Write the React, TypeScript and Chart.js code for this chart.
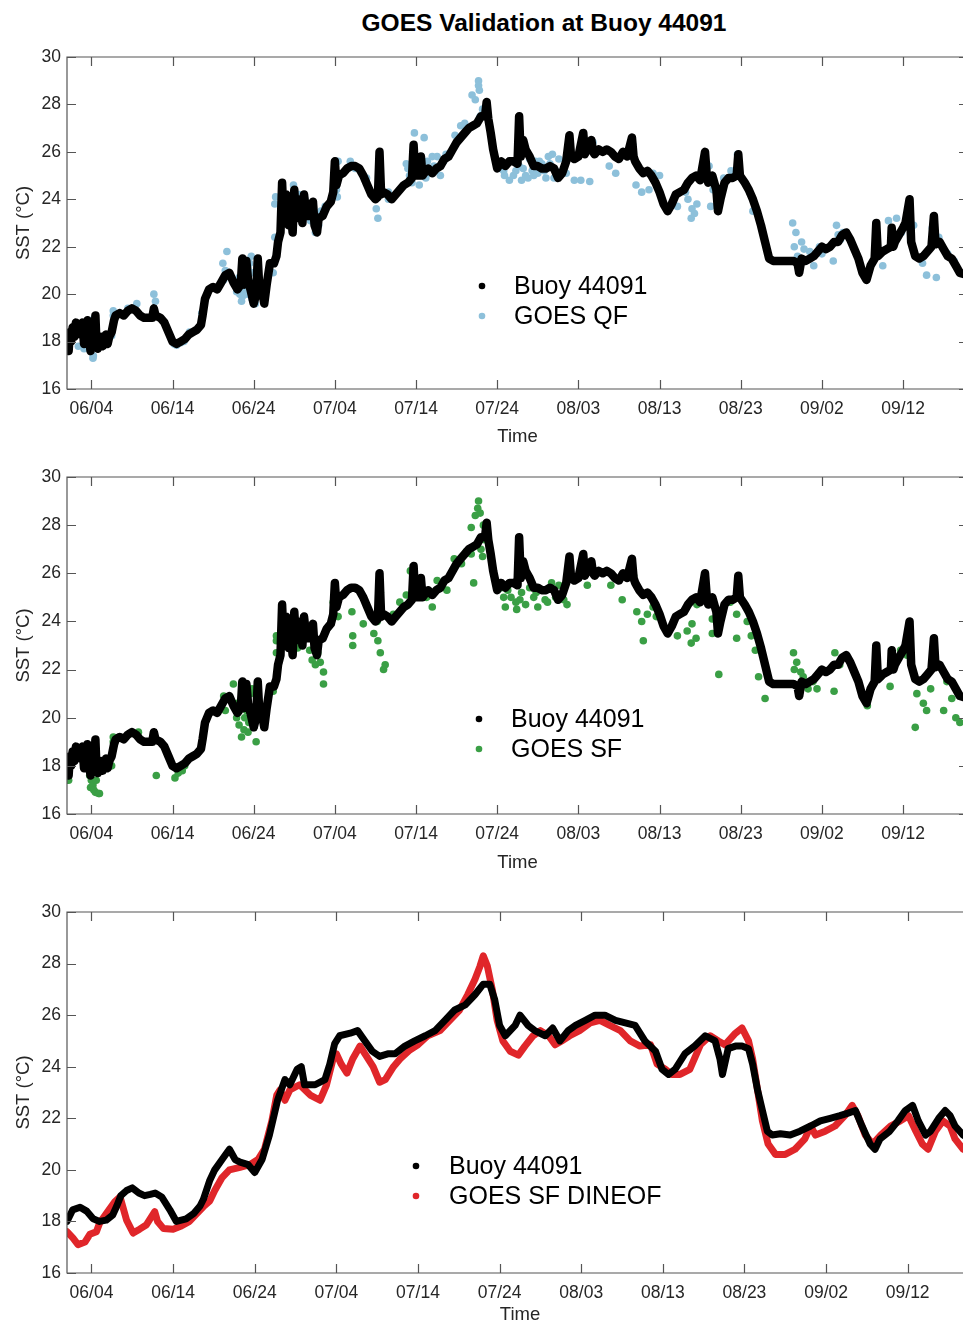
import { useEffect, useRef } from 'react';
import { Chart, registerables } from 'chart.js';

Chart.register(...registerables);

const FONT = '"Liberation Sans", Arial, Helvetica, sans-serif';

// Days since 06/01 (00:00) for tick positions, and their labels
const xTickDays = [3, 13, 23, 33, 43, 53, 63, 73, 83, 93, 103];
const xTickLabels = ['06/04', '06/14', '06/24', '07/04', '07/14', '07/24', '08/03', '08/13', '08/23', '09/02', '09/12'];

const figureTitle = 'GOES Validation at Buoy 44091';
const yTitle = 'SST (°C)';
const xTitle = 'Time';

// Buoy 44091 in-situ SST: [day, °C]
const buoy: [number, number][] = [
  [0, 18.2], [0.2, 17.6], [0.35, 18.4], [0.5, 18.0], [0.7, 18.6], [0.9, 18.2], [1.1, 18.8], [1.3, 18.4],
  [1.5, 18.7], [1.7, 18.3], [1.9, 18.8], [2.1, 17.9], [2.3, 18.6], [2.5, 18.9], [2.7, 18.2], [2.9, 17.6],
  [3.1, 18.2], [3.3, 17.8], [3.5, 19.1], [3.6, 18.2], [3.8, 17.7], [4.0, 17.9], [4.2, 18.2], [4.4, 17.8],
  [4.6, 18.1], [4.8, 18.3], [5.0, 17.9], [5.2, 18.2], [5.5, 18.4], [5.8, 18.9], [6.0, 19.1], [6.5, 19.2],
  [7.0, 19.1], [7.5, 19.3], [8.0, 19.4], [8.5, 19.3], [9.0, 19.1], [9.5, 19.0], [10.0, 19.0], [10.5, 19.0],
  [10.7, 19.4], [10.9, 19.1], [11.5, 19.0], [12.0, 18.8], [12.5, 18.4], [13.0, 18.0], [13.5, 17.9], [14.0, 18.0],
  [14.5, 18.1], [15.0, 18.3], [15.5, 18.4], [16.0, 18.5], [16.5, 18.7], [16.7, 19.1], [17.0, 19.8], [17.5, 20.2],
  [18.0, 20.3], [18.5, 20.2], [19.0, 20.5], [19.5, 20.8], [20.0, 20.9], [20.5, 20.5], [21.0, 20.2], [21.4, 20.4],
  [21.6, 21.5], [21.8, 20.4], [22.0, 20.8], [22.1, 21.4], [22.3, 20.6], [22.6, 20.2], [23.0, 19.6], [23.3, 20.0],
  [23.5, 21.5], [23.7, 20.2], [24.0, 20.2], [24.3, 19.6], [24.6, 20.4], [25.0, 21.3], [25.5, 21.3], [25.8, 21.6],
  [26.0, 22.2], [26.3, 22.6], [26.5, 24.7], [26.7, 23.0], [27.0, 24.2], [27.3, 22.9], [27.5, 23.7], [27.8, 22.6],
  [28.0, 24.4], [28.2, 23.2], [28.5, 23.5], [28.8, 24.0], [29.0, 23.0], [29.2, 24.2], [29.5, 23.3], [30.0, 23.3],
  [30.3, 23.9], [30.5, 22.9], [30.8, 22.6], [31.0, 23.2], [31.5, 23.3], [32.0, 23.7], [32.5, 23.9], [32.8, 24.3],
  [33.0, 25.6], [33.2, 24.6], [33.5, 25.0], [34.0, 25.1], [34.5, 25.3], [35.0, 25.4], [35.5, 25.4], [36.0, 25.3],
  [36.5, 25.0], [37.0, 24.6], [37.5, 24.2], [38.0, 24.0], [38.3, 24.1], [38.5, 26.0], [38.7, 24.2], [39.0, 24.3],
  [39.5, 24.2], [40.0, 24.0], [40.5, 24.2], [41.0, 24.4], [41.5, 24.6], [42.0, 24.7], [42.5, 24.9], [42.7, 26.3],
  [42.9, 25.0], [43.5, 25.0], [43.6, 25.8], [43.8, 25.0], [44.0, 25.1], [44.5, 25.3], [45.0, 25.1], [45.5, 25.3],
  [46.0, 25.4], [46.5, 25.7], [47.0, 25.8], [47.5, 26.1], [48.0, 26.4], [48.5, 26.6], [49.0, 26.8], [49.5, 27.0],
  [50.0, 27.1], [50.5, 27.2], [51.0, 27.5], [51.5, 27.5], [51.7, 28.1], [51.9, 27.4], [52.2, 26.8], [52.5, 26.1],
  [53.0, 25.3], [53.5, 25.6], [54.0, 25.4], [54.5, 25.6], [55.0, 25.6], [55.5, 25.5], [55.7, 27.5], [55.9, 25.8],
  [56.2, 26.5], [56.5, 26.1], [57.0, 25.8], [57.5, 25.4], [58.0, 25.4], [58.5, 25.3], [59.0, 25.3], [59.5, 25.4],
  [60.0, 25.3], [60.5, 24.9], [61.0, 25.1], [61.5, 25.6], [61.9, 26.7], [62.1, 25.8], [62.5, 25.7], [63.0, 25.8],
  [63.6, 26.8], [63.8, 25.9], [64.0, 26.1], [64.6, 26.5], [64.8, 26.0], [65.0, 25.9], [65.5, 26.1], [66.0, 26.0],
  [66.5, 26.1], [67.0, 26.0], [67.5, 25.8], [68.0, 25.7], [68.5, 26.0], [69.0, 25.8], [69.6, 26.6], [69.8, 25.8],
  [70.0, 25.6], [70.5, 25.3], [71.0, 25.1], [71.5, 25.2], [72.0, 25.0], [72.5, 24.7], [73.0, 24.3], [73.5, 23.8],
  [74.0, 23.5], [74.5, 23.8], [75.0, 24.2], [75.5, 24.3], [76.0, 24.4], [76.5, 24.7], [77.0, 24.9], [77.5, 25.0],
  [78.0, 24.8], [78.6, 26.0], [78.8, 25.1], [79.0, 24.7], [79.5, 25.0], [80.0, 24.4], [80.2, 23.5], [80.5, 24.0],
  [81.0, 24.7], [81.5, 24.9], [82.0, 24.9], [82.5, 25.0], [82.7, 25.9], [82.9, 25.0], [83.5, 24.7], [84.0, 24.4],
  [84.5, 24.0], [85.0, 23.5], [85.5, 22.9], [86.0, 22.2], [86.5, 21.5], [87.0, 21.4], [88.0, 21.4], [89.0, 21.4],
  [89.5, 21.4], [90.0, 21.3], [90.2, 20.9], [90.5, 21.5], [91.0, 21.4], [91.5, 21.5], [92.0, 21.6], [92.5, 21.8],
  [93.0, 22.0], [93.5, 21.9], [94.0, 22.0], [94.5, 22.2], [95.0, 22.2], [95.5, 22.5], [96.0, 22.6], [96.5, 22.3],
  [97.0, 21.9], [97.5, 21.5], [98.0, 20.9], [98.5, 20.6], [99.0, 21.2], [99.5, 21.5], [99.7, 23.0], [99.9, 21.6],
  [100.5, 21.8], [101.0, 21.9], [101.5, 22.0], [101.6, 22.8], [101.8, 22.0], [102.0, 22.2], [102.5, 22.5], [103.0, 22.8],
  [103.3, 23.0], [103.8, 24.0], [104.0, 22.2], [104.5, 21.6], [105.0, 21.5], [105.5, 21.6], [106.0, 21.8], [106.5, 22.0],
  [106.8, 23.3], [107.0, 22.1], [107.5, 22.2], [108.0, 21.9], [108.5, 21.6], [109.0, 21.5], [109.5, 21.2], [110.0, 20.9],
  [111, 20.8],
];

// GOES QF retrievals: [day, °C]
const goesQF: [number, number][] = [
  [0.0, 17.8], [0.1, 17.7], [0.2, 17.9], [1.4, 17.8], [1.6, 18.75], [2.1, 17.7], [2.8, 18.5], [2.8, 18.0],
  [3.0, 18.9], [3.2, 17.3], [3.25, 17.4], [5.5, 18.25], [5.7, 19.3], [5.7, 19.1], [7.5, 19.4], [8.6, 19.6],
  [10.7, 20.0], [10.9, 19.7], [13.2, 17.9], [13.5, 17.85], [14.0, 17.95], [14.4, 18.0], [15.1, 18.4], [16.6, 19.2],
  [19.2, 21.3], [19.3, 20.6], [19.5, 21.0], [19.7, 21.8], [21.0, 20.4], [21.3, 20.0], [21.5, 19.7], [21.8, 20.1],
  [22.0, 20.6], [22.1, 20.9], [22.3, 21.1], [22.5, 21.3], [22.6, 20.2], [22.7, 21.6], [22.8, 19.8], [23.0, 20.5],
  [23.2, 19.6], [21.2, 20.7], [21.7, 20.3], [22.2, 20.0], [22.9, 20.9], [20.9, 20.1], [21.6, 19.9], [22.4, 20.4],
  [25.4, 20.9], [25.6, 22.4], [25.6, 23.8], [25.7, 24.1], [27.9, 24.6], [28.2, 23.9], [28.4, 23.8],
  [28.6, 24.2], [29.0, 23.7], [29.3, 24.0], [29.6, 23.5], [30.0, 23.1], [30.3, 23.8], [30.5, 23.4], [30.6, 22.6],
  [30.7, 22.7], [31.0, 22.9], [31.3, 23.5], [31.8, 23.7], [33.2, 24.4], [33.3, 24.1], [33.4, 25.6], [34.9, 25.6],
  [35.5, 25.3], [36.9, 24.9], [38.1, 23.6], [38.3, 23.2], [38.5, 25.8], [38.5, 25.4], [38.5, 25.1], [39.6, 24.3],
  [39.6, 24.0], [41.8, 25.5], [42.2, 25.0], [42.5, 24.7], [42.8, 26.8], [43.1, 25.3], [43.4, 24.6], [44.0, 26.6],
  [44.4, 25.6], [44.8, 25.1], [45.2, 25.4], [45.6, 25.8], [46.0, 25.0], [46.4, 25.6], [47.0, 25.9], [47.8, 26.7],
  [42.0, 25.3], [43.7, 25.6], [44.2, 24.9], [45.0, 25.8], [45.9, 25.4], [46.7, 25.9],
  [48.5, 27.1], [49.0, 27.2], [49.3, 27.0], [49.9, 28.4], [50.3, 28.2], [50.7, 29.0], [50.7, 28.8], [50.8, 28.6],
  [50.9, 27.5], [51.2, 27.8], [53.3, 25.3], [53.8, 25.2], [53.9, 25.0], [54.5, 24.8], [55.0, 25.0], [55.7, 25.4],
  [56.0, 24.8], [56.5, 25.0], [57.0, 25.7], [57.3, 25.2], [57.7, 25.6], [58.0, 25.1], [58.5, 25.5], [59.0, 24.9],
  [59.5, 25.5], [59.8, 25.9], [60.2, 25.2], [60.6, 25.7], [61.5, 25.1], [62.5, 24.8], [63.3, 24.8], [64.4, 24.75],
  [55.3, 25.2], [56.2, 25.3], [56.8, 24.9], [57.5, 25.0], [58.2, 25.6], [58.8, 25.2], [59.3, 25.8], [60.0, 24.9],
  [64.8, 26.4], [66.8, 25.4], [67.6, 25.1], [69.7, 26.3], [70.1, 24.6], [70.8, 24.3], [71.7, 24.4], [72.2, 25.1],
  [73.0, 25.0], [75.2, 23.7], [76.5, 24.0], [76.9, 23.2], [77.0, 23.6], [77.3, 23.4], [77.9, 25.0], [78.3, 25.4],
  [79.1, 25.4], [79.3, 23.7], [79.6, 24.4], [82.6, 25.9], [82.8, 25.3], [84.1, 24.3], [84.5, 23.5], [89.4, 23.0],
  [89.6, 22.0], [89.8, 22.6], [90.0, 21.6], [90.5, 22.2], [91.0, 21.4], [91.5, 21.8], [92.0, 21.2], [92.7, 22.0],
  [93.5, 21.9], [94.4, 21.4], [94.8, 22.9], [95.3, 22.3], [95.6, 22.6], [99.7, 23.0], [99.8, 21.6], [100.5, 21.2],
  [101.2, 23.1], [102.0, 22.4], [102.2, 23.2], [102.8, 22.6], [103.8, 23.7], [105.4, 21.3], [105.9, 20.8], [106.6, 22.8],
  [107.1, 20.7], [107.4, 22.4], [108.5, 21.7], [109.3, 21.4],
  [76.2, 24.3], [77.6, 23.8], [80.9, 24.9], [81.8, 25.2], [90.8, 21.9], [93.0, 21.7], [95.0, 22.5], [104.3, 22.9],
];

// GOES SF retrievals: [day, °C]
const goesSF: [number, number][] = [
  [0.0, 17.6], [0.2, 17.4], [2.4, 18.2], [2.6, 17.9], [2.8, 17.6], [2.9, 17.1], [3.0, 17.4], [3.2, 17.2],
  [3.2, 18.1], [3.3, 17.0], [3.5, 16.9], [3.6, 17.4], [3.6, 18.3], [3.9, 16.85], [4.0, 16.85], [5.5, 18.0],
  [5.7, 19.2], [5.7, 19.0], [8.8, 19.4], [11.0, 17.6], [13.3, 17.5], [13.7, 17.7], [14.2, 17.8], [14.5, 18.0],
  [19.3, 20.9], [19.5, 20.3], [20.5, 21.4], [20.9, 20.0], [21.2, 19.7], [21.5, 19.2], [21.8, 19.5], [22.1, 20.3],
  [22.4, 19.8], [22.6, 21.0], [22.8, 21.2], [23.0, 19.6], [23.2, 20.4], [23.3, 19.0], [25.4, 21.1], [25.8, 23.4],
  [25.8, 23.2], [25.8, 22.7], [27.9, 23.3], [28.4, 22.9], [28.9, 23.3], [29.2, 23.6], [29.9, 22.8], [30.2, 22.4],
  [30.6, 22.2], [30.9, 22.7], [31.2, 22.3], [31.6, 21.9], [31.6, 21.4], [32.8, 24.8], [33.4, 24.2], [35.1, 24.4],
  [35.2, 23.4], [35.2, 23.0], [36.5, 23.9], [37.8, 23.5], [38.2, 24.0], [38.3, 23.2], [38.6, 22.7], [38.6, 25.2],
  [39.0, 22.0], [39.2, 22.2], [40.2, 24.3], [41.0, 24.8], [41.8, 25.1], [42.3, 26.1], [42.7, 26.0], [43.5, 25.4],
  [44.3, 25.0], [45.0, 24.6], [45.6, 25.7], [46.8, 25.3], [47.7, 26.6], [48.6, 26.4], [49.2, 26.9], [49.8, 26.8],
  [49.8, 27.9], [50.1, 25.6], [50.3, 28.4], [50.6, 28.7], [50.7, 29.0], [50.9, 28.5], [51.0, 27.0], [51.2, 26.7],
  [51.3, 28.0], [51.4, 27.4], [53.5, 25.4], [53.8, 25.0], [54.0, 24.6], [54.7, 25.0], [55.3, 24.8], [55.4, 24.5],
  [56.0, 25.2], [56.5, 24.7], [57.0, 25.4], [57.5, 25.0], [58.0, 24.6], [58.6, 25.3], [59.2, 24.8], [59.7, 25.6],
  [60.2, 25.0], [60.6, 25.5], [61.2, 24.9], [61.6, 24.7], [64.1, 25.5], [65.1, 26.0], [67.0, 25.5], [68.4, 24.9],
  [69.8, 25.9], [70.2, 24.4], [70.8, 24.0], [71.0, 23.2], [71.5, 24.3], [72.2, 24.6], [72.6, 24.2], [75.2, 23.4],
  [76.4, 23.6], [76.9, 23.1], [77.0, 23.9], [77.5, 23.3], [77.6, 24.7], [78.4, 25.3], [79.0, 24.8], [79.5, 24.1],
  [79.5, 23.5], [80.3, 21.8], [81.7, 24.8], [82.5, 24.3], [82.5, 23.3], [82.8, 25.6], [83.8, 24.0], [84.3, 23.4],
  [84.8, 22.8], [85.2, 21.7], [86.0, 20.8], [89.5, 22.7], [89.6, 22.0], [89.9, 22.3], [90.1, 21.3], [90.7, 21.7],
  [91.3, 21.2], [91.9, 21.5], [92.4, 21.2], [94.5, 21.1], [94.6, 22.7], [95.2, 22.2], [95.7, 22.5], [98.6, 20.5],
  [100.2, 21.7], [101.4, 21.3], [102.7, 22.8], [103.5, 22.6], [104.5, 19.6], [104.7, 21.0], [105.5, 20.6], [105.9, 20.3],
  [106.4, 21.2], [106.8, 22.5], [108.0, 20.3], [108.4, 21.5], [109.0, 20.8], [109.5, 20.0], [110.0, 19.8],
  [21.0, 20.6], [21.9, 20.0], [22.3, 19.4], [54.3, 25.3], [55.8, 24.9], [57.8, 25.2], [58.9, 24.9], [90.4, 21.9],
];

// Buoy series as shown in the DINEOF panel: [day, °C]
const buoyDaily: [number, number][] = [
  [0, 18.0], [0.7, 18.45], [1.6, 18.55], [2.4, 18.4], [3.2, 18.1], [4.0, 18.0], [4.8, 18.05], [5.6, 18.25],
  [6.1, 18.6], [6.6, 19.0], [7.3, 19.2], [8.0, 19.3], [8.8, 19.1], [9.5, 19.0], [10.2, 19.05], [10.8, 19.1],
  [11.6, 18.95], [12.6, 18.45], [13.4, 18.0], [14.6, 18.1], [15.5, 18.3], [16.3, 18.6], [16.7, 18.85], [17.5, 19.6],
  [18.1, 20.0], [19.0, 20.4], [19.9, 20.8], [20.6, 20.4], [21.2, 20.3], [22.2, 20.2], [23.0, 19.9], [23.9, 20.4],
  [24.8, 21.35], [25.8, 22.7], [26.7, 23.5], [27.3, 23.3], [28.2, 23.9], [28.7, 24.0], [29.1, 23.3], [30.4, 23.3],
  [31.6, 23.5], [32.2, 24.1], [32.8, 24.9], [33.4, 25.2], [34.7, 25.3], [35.6, 25.4], [36.5, 25.0], [37.4, 24.6],
  [38.3, 24.4], [39.3, 24.5], [40.2, 24.5], [41.4, 24.8], [42.6, 25.0], [43.9, 25.2], [45.1, 25.4], [46.3, 25.8],
  [47.5, 26.2], [48.8, 26.4], [50.0, 26.8], [51.0, 27.2], [51.8, 27.2], [52.4, 26.6], [53.0, 25.6], [53.7, 25.2],
  [54.9, 25.6], [55.5, 26.0], [56.5, 25.6], [57.3, 25.4], [58.6, 25.2], [59.5, 25.5], [60.4, 25.0], [61.4, 25.4],
  [62.3, 25.6], [63.5, 25.8], [64.7, 26.0], [65.9, 26.0], [67.2, 25.8], [68.4, 25.7], [69.6, 25.6], [70.8, 25.0],
  [72.1, 24.6], [72.9, 23.9], [73.7, 23.7], [74.5, 23.9], [75.7, 24.5], [76.9, 24.8], [78.2, 25.2], [79.4, 25.0],
  [80.0, 24.3], [80.3, 23.7], [81.0, 24.7], [81.9, 24.8], [82.7, 24.8], [83.5, 24.7], [84.0, 24.1], [84.6, 23.1],
  [85.2, 22.3], [85.8, 21.5], [86.4, 21.35], [87.4, 21.4], [88.6, 21.35], [89.8, 21.5], [91.1, 21.7], [92.3, 21.9],
  [93.5, 22.0], [94.7, 22.1], [95.7, 22.2], [96.6, 22.3], [97.4, 21.7], [98.4, 21.0], [99.0, 20.8], [99.6, 21.2],
  [100.8, 21.5], [101.8, 21.9], [102.7, 22.3], [103.6, 22.5], [104.3, 21.9], [105.2, 21.35], [105.8, 21.5], [106.8, 22.0],
  [107.6, 22.3], [108.2, 22.1], [108.8, 21.7], [109.8, 21.35], [111, 21.1],
];

// GOES SF DINEOF reconstruction: [day, °C]
const goesDineof: [number, number][] = [
  [0, 17.6], [0.74, 17.35], [1.35, 17.1], [2.2, 17.2], [2.8, 17.5], [3.6, 17.6], [4.0, 17.94], [4.8, 18.3],
  [5.85, 18.76], [6.5, 18.95], [7.3, 18.05], [8.1, 17.55], [8.9, 17.7], [9.7, 17.86], [10.75, 18.38], [11.1, 18.0],
  [11.8, 17.73], [13.0, 17.7], [14.0, 17.82], [15.0, 18.0], [15.9, 18.3], [16.7, 18.57], [17.5, 18.8], [18.1, 19.2],
  [19.0, 19.7], [19.9, 20.0], [21.2, 20.1], [22.4, 20.2], [23.4, 20.4], [24.2, 20.8], [25.1, 21.9], [25.7, 22.9],
  [26.1, 23.1], [26.7, 22.7], [27.3, 23.1], [28.5, 23.3], [29.8, 22.9], [31.0, 22.7], [31.8, 23.3], [32.6, 24.3],
  [33.0, 24.5], [33.6, 24.1], [34.3, 23.75], [35.0, 24.3], [35.9, 24.8], [36.7, 24.4], [37.5, 24.0], [38.3, 23.4],
  [39.0, 23.5], [40.0, 24.0], [40.8, 24.3], [42.0, 24.65], [43.0, 24.85], [44.2, 25.2], [45.7, 25.4], [46.9, 25.8],
  [48.1, 26.2], [49.1, 26.8], [50.0, 27.4], [50.6, 27.9], [51.0, 28.3], [51.5, 27.9], [52.1, 27.0], [52.7, 25.8],
  [53.4, 25.0], [54.3, 24.6], [55.3, 24.45], [56.1, 24.8], [57.1, 25.2], [58.0, 25.4], [59.0, 25.2], [59.8, 24.85],
  [60.6, 25.0], [61.6, 25.2], [62.8, 25.4], [64.1, 25.7], [65.3, 25.8], [66.5, 25.6], [67.8, 25.4], [69.0, 25.0],
  [70.2, 24.8], [71.5, 24.85], [72.3, 24.1], [73.3, 23.9], [74.1, 23.7], [75.1, 23.7], [76.3, 23.9], [77.6, 24.85],
  [78.8, 25.2], [79.8, 25.0], [80.6, 24.85], [81.9, 25.3], [82.7, 25.5], [83.5, 25.0], [84.0, 24.3], [84.6, 23.1],
  [85.2, 21.9], [85.9, 21.0], [86.8, 20.6], [88.0, 20.6], [89.2, 20.8], [90.4, 21.2], [91.1, 21.7], [91.7, 21.35],
  [92.9, 21.5], [94.1, 21.7], [95.3, 22.1], [96.2, 22.5], [96.9, 22.1], [97.8, 21.35], [98.7, 21.0], [99.7, 21.35],
  [100.9, 21.7], [102.1, 21.9], [103.1, 22.1], [104.0, 21.5], [104.8, 21.0], [105.5, 20.8], [106.4, 21.5], [107.3, 21.9],
  [108.2, 21.7], [108.8, 21.2], [109.8, 20.8], [111, 20.6],
];

const toXY = (arr: [number, number][]) => arr.map(([x, y]) => ({ x, y }));

const AXIS_COLOR = '#555555';
const TEXT_COLOR = '#262626';

const matlabAxes = {
  id: 'matlabAxes',
  afterDatasetsDraw(chart: any, _args: any, opts: any) {
    const { ctx, chartArea } = chart;
    const { left, right, top, bottom } = chartArea;
    const xs = chart.scales.x;
    const ys = chart.scales.y;
    const tl = 9;
    ctx.save();
    ctx.strokeStyle = AXIS_COLOR;
    ctx.lineWidth = 1.2;
    ctx.beginPath();
    ctx.moveTo(left, top);
    ctx.lineTo(right, top);
    ctx.lineTo(right, bottom);
    ctx.lineTo(left, bottom);
    ctx.closePath();
    xs.ticks.forEach((t: any) => {
      const px = Math.round(xs.getPixelForValue(t.value)) + 0.5;
      ctx.moveTo(px, bottom);
      ctx.lineTo(px, bottom - tl);
      ctx.moveTo(px, top);
      ctx.lineTo(px, top + tl);
    });
    ys.ticks.forEach((t: any) => {
      const py = Math.round(ys.getPixelForValue(t.value)) + 0.5;
      ctx.moveTo(left, py);
      ctx.lineTo(left + tl, py);
      ctx.moveTo(right, py);
      ctx.lineTo(right - tl, py);
    });
    ctx.stroke();

    if (opts && opts.show) {
      ctx.font = `25px ${FONT}`;
      ctx.textBaseline = 'middle';
      ctx.textAlign = 'left';
      chart.data.datasets.forEach((ds: any, i: number) => {
        const x = left + opts.x;
        const y = top + opts.y + i * opts.gap;
        ctx.beginPath();
        ctx.fillStyle = ds.borderColor;
        ctx.arc(x, y, 3.3, 0, Math.PI * 2);
        ctx.fill();
        ctx.fillStyle = '#000';
        ctx.fillText(ds.label, x + opts.dx, y + 1);
      });
    }
    ctx.restore();
  },
};

function makeConfig(p: {
  datasets: any[];
  padTop: number;
  padRight: number;
  xAxisHeight: number;
  xTitlePad: number;
  legend: { x: number; y: number; gap: number; dx: number };
}) {
  return {
    type: 'scatter' as const,
    data: { datasets: p.datasets },
    plugins: [matlabAxes],
    options: {
      responsive: false,
      animation: false as const,
      devicePixelRatio: 1,
      layout: { padding: { top: p.padTop, right: p.padRight, bottom: 0, left: 0 } },
      plugins: {
        legend: { display: false },
        tooltip: { enabled: false },
        title: { display: false },
        matlabAxes: { show: true, ...p.legend },
      },
      scales: {
        x: {
          type: 'linear' as const,
          min: 0,
          max: 111,
          grid: { display: false, drawTicks: false },
          border: { display: false },
          afterBuildTicks: (s: any) => {
            s.ticks = xTickDays.map((v) => ({ value: v }));
          },
          afterFit: (s: any) => {
            s.height = p.xAxisHeight;
          },
          ticks: {
            autoSkip: false,
            maxRotation: 0,
            padding: 10,
            color: TEXT_COLOR,
            font: { family: FONT, size: 17.5 },
            callback: (_v: any, i: number) => xTickLabels[i] ?? '',
          },
          title: {
            display: true,
            text: xTitle,
            color: TEXT_COLOR,
            font: { family: FONT, size: 18.5 },
            padding: { top: 0, bottom: p.xTitlePad },
          },
        },
        y: {
          type: 'linear' as const,
          min: 16,
          max: 30,
          grid: { display: false, drawTicks: false },
          border: { display: false },
          afterFit: (s: any) => {
            s.width = 67;
          },
          ticks: {
            stepSize: 2,
            padding: 6,
            color: TEXT_COLOR,
            font: { family: FONT, size: 17.5 },
          },
          title: {
            display: true,
            text: yTitle,
            color: TEXT_COLOR,
            font: { family: FONT, size: 18.5 },
            padding: { top: 13, bottom: 0 },
          },
        },
      },
    },
  };
}

const buoyLine = (data: [number, number][], width: number) => ({
  label: 'Buoy 44091',
  data: toXY(data),
  showLine: true,
  borderColor: '#000000',
  backgroundColor: '#000000',
  borderWidth: width,
  borderJoinStyle: 'round',
  borderCapStyle: 'round',
  pointRadius: 0,
  tension: 0,
});

const dots = (label: string, data: [number, number][], color: string) => ({
  label,
  data: toXY(data),
  showLine: false,
  borderColor: color,
  backgroundColor: color,
  pointRadius: 3.8,
  pointBorderWidth: 0,
});

export default function App() {
  const c1 = useRef<HTMLCanvasElement>(null);
  const c2 = useRef<HTMLCanvasElement>(null);
  const c3 = useRef<HTMLCanvasElement>(null);

  useEffect(() => {
    document.body.style.margin = '0';
    const charts: Chart[] = [];
    charts.push(
      new Chart(
        c1.current!,
        makeConfig({
          datasets: [buoyLine(buoy, 8.5), dots('GOES QF', goesQF, '#8dc0da')],
          padTop: 57,
          padRight: 7,
          xAxisHeight: 71,
          xTitlePad: 12,
          legend: { x: 415, y: 229, gap: 30, dx: 32 },
        }) as any
      )
    );
    charts.push(
      new Chart(
        c2.current!,
        makeConfig({
          datasets: [buoyLine(buoy, 8.5), dots('GOES SF', goesSF, '#3a9f45')],
          padTop: 17,
          padRight: 7,
          xAxisHeight: 66,
          xTitlePad: 6,
          legend: { x: 412, y: 242, gap: 30, dx: 32 },
        }) as any
      )
    );
    const d3 = buoyLine(buoyDaily, 7);
    const r3 = { ...buoyLine(goesDineof, 7), label: 'GOES SF DINEOF', borderColor: '#e0262a', backgroundColor: '#e0262a' };
    charts.push(
      new Chart(
        c3.current!,
        makeConfig({
          datasets: [d3, r3],
          padTop: 32,
          padRight: 7,
          xAxisHeight: 67,
          xTitlePad: 14,
          legend: { x: 349, y: 254, gap: 30, dx: 33 },
        }) as any
      )
    );
    return () => charts.forEach((c) => c.destroy());
  }, []);

  return (
    <div style={{ position: 'relative', width: 963, height: 1323, overflow: 'hidden', background: '#ffffff' }}>
      <div
        style={{
          position: 'absolute',
          left: 244,
          top: 9,
          width: 600,
          textAlign: 'center',
          fontFamily: FONT,
          fontWeight: 'bold',
          fontSize: 24.5,
          lineHeight: '28px',
          color: '#000',
        }}
      >
        {figureTitle}
      </div>
      <canvas ref={c1} width={975} height={460} style={{ position: 'absolute', left: 0, top: 0 }} />
      <canvas ref={c2} width={975} height={420} style={{ position: 'absolute', left: 0, top: 460 }} />
      <canvas ref={c3} width={980} height={460} style={{ position: 'absolute', left: 0, top: 880 }} />
    </div>
  );
}
